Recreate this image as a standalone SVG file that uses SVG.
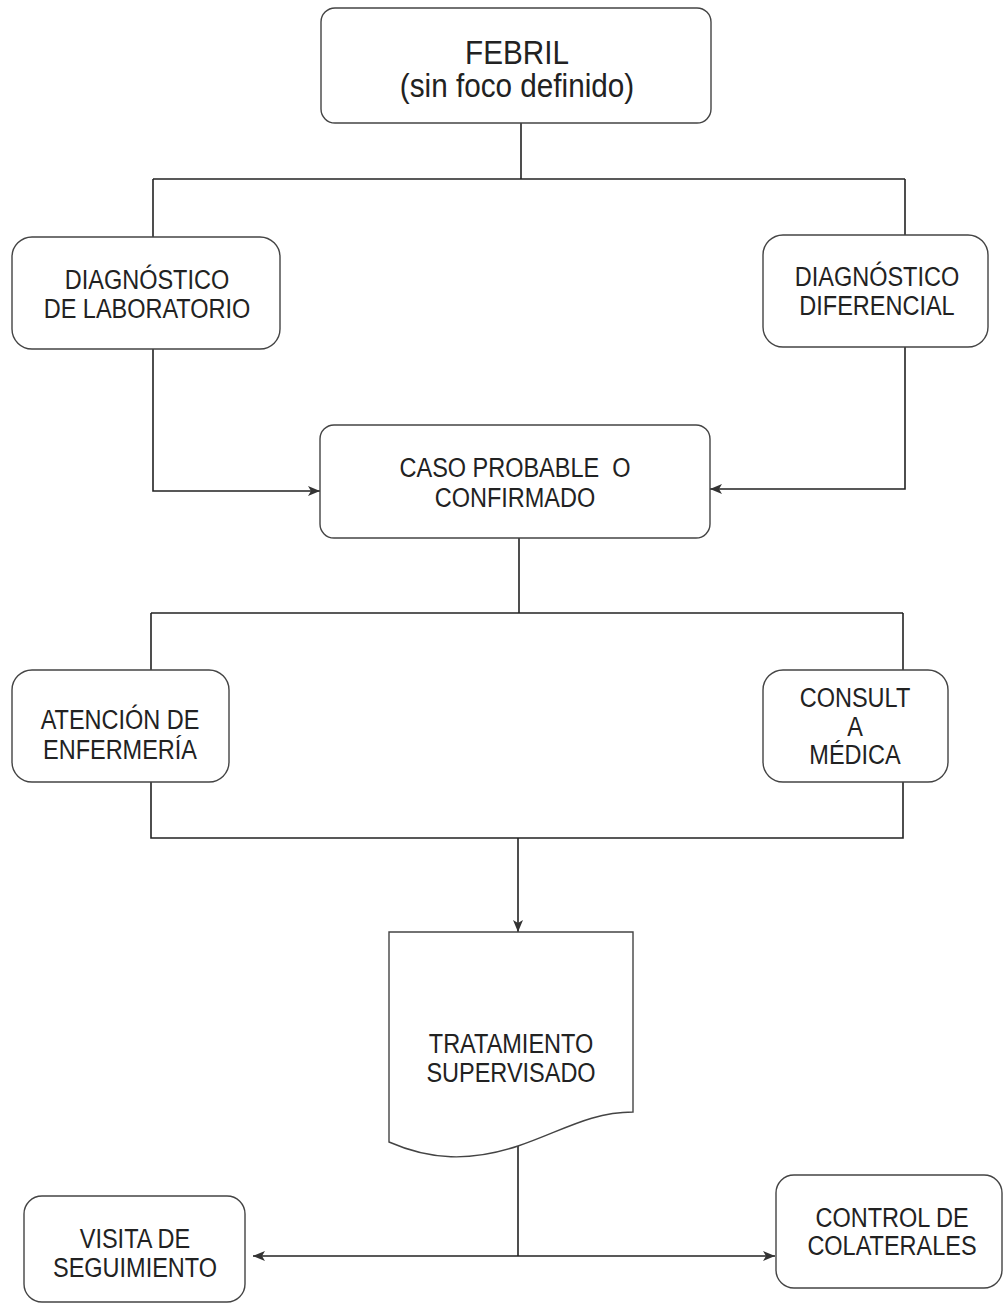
<svg xmlns="http://www.w3.org/2000/svg" width="1004" height="1306" viewBox="0 0 1004 1306">
<style>
.box{fill:#ffffff;stroke:#444;stroke-width:1.4}
.t{font-family:"Liberation Sans",Arial,sans-serif;font-size:27px;fill:#222;text-anchor:middle}
.big{font-size:33px}
.c{fill:none;stroke:#222;stroke-width:1.6}
</style>
<defs>
<marker id="ah" markerWidth="12" markerHeight="10" refX="12" refY="5" orient="auto" markerUnits="userSpaceOnUse">
<path d="M0,0 L12,5 L0,10 L3,5 Z" fill="#333"/>
</marker>
</defs>
<rect width="1004" height="1306" fill="#ffffff"/>
<g id="connectors">
<path class="c" d="M521,123 V179"/>
<path class="c" d="M153,179 H905"/>
<path class="c" d="M153,179 V237"/>
<path class="c" d="M905,179 V235"/>
<path class="c" d="M153,349 V491 H320" marker-end="url(#ah)"/>
<path class="c" d="M905,347 V489 H710" marker-end="url(#ah)"/>
<path class="c" d="M519,538 V613"/>
<path class="c" d="M151,613 H903"/>
<path class="c" d="M151,613 V670"/>
<path class="c" d="M903,613 V670"/>
<path class="c" d="M151,782 V838 H903 V782"/>
<path class="c" d="M518,838 V932" marker-end="url(#ah)"/>
<path class="c" d="M518,1146 V1256"/>
<path class="c" d="M518,1256 H253" marker-end="url(#ah)"/>
<path class="c" d="M518,1256 H775" marker-end="url(#ah)"/>
</g>
<g id="n-febril">
<rect class="box" x="321" y="8" width="390" height="115" rx="14"/>
<text class="t big" transform="matrix(0.9 0 0 1 517 0)" x="0" y="64">FEBRIL</text>
<text class="t big" transform="matrix(0.9 0 0 1 517 0)" x="0" y="97">(sin foco definido)</text>
</g>
<g id="n-lab">
<rect class="box" x="12" y="237" width="268" height="112" rx="20"/>
<text class="t" transform="matrix(0.87 0 0 1 147 0)" x="0" y="289">DIAGNÓSTICO</text>
<text class="t" transform="matrix(0.87 0 0 1 147 0)" x="0" y="318">DE LABORATORIO</text>
</g>
<g id="n-dif">
<rect class="box" x="763" y="235" width="225" height="112" rx="20"/>
<text class="t" transform="matrix(0.87 0 0 1 877 0)" x="0" y="286">DIAGNÓSTICO</text>
<text class="t" transform="matrix(0.87 0 0 1 877 0)" x="0" y="315">DIFERENCIAL</text>
</g>
<g id="n-caso">
<rect class="box" x="320" y="425" width="390" height="113" rx="14"/>
<text class="t" transform="matrix(0.87 0 0 1 515 0)" x="0" y="477" xml:space="preserve">CASO PROBABLE  O</text>
<text class="t" transform="matrix(0.87 0 0 1 515 0)" x="0" y="507">CONFIRMADO</text>
</g>
<g id="n-atencion">
<rect class="box" x="12" y="670" width="217" height="112" rx="20"/>
<text class="t" transform="matrix(0.87 0 0 1 120 0)" x="0" y="729">ATENCIÓN DE</text>
<text class="t" transform="matrix(0.87 0 0 1 120 0)" x="0" y="759">ENFERMERÍA</text>
</g>
<g id="n-consulta">
<rect class="box" x="763" y="670" width="185" height="112" rx="20"/>
<text class="t" transform="matrix(0.87 0 0 1 855 0)" x="0" y="707">CONSULT</text>
<text class="t" transform="matrix(0.87 0 0 1 855 0)" x="0" y="736">A</text>
<text class="t" transform="matrix(0.87 0 0 1 855 0)" x="0" y="764">MÉDICA</text>
</g>
<g id="n-tratamiento">
<path class="box" d="M389,932 H633 V1112 C590,1112 560,1132 518,1146 C470,1162 430,1160 389,1142 Z"/>
<text class="t" transform="matrix(0.87 0 0 1 511 0)" x="0" y="1053">TRATAMIENTO</text>
<text class="t" transform="matrix(0.87 0 0 1 511 0)" x="0" y="1082">SUPERVISADO</text>
</g>
<g id="n-visita">
<rect class="box" x="24" y="1196" width="221" height="106" rx="18"/>
<text class="t" transform="matrix(0.87 0 0 1 135 0)" x="0" y="1248">VISITA DE</text>
<text class="t" transform="matrix(0.87 0 0 1 135 0)" x="0" y="1277">SEGUIMIENTO</text>
</g>
<g id="n-control">
<rect class="box" x="776" y="1175" width="226" height="113" rx="18"/>
<text class="t" transform="matrix(0.87 0 0 1 892 0)" x="0" y="1227">CONTROL DE</text>
<text class="t" transform="matrix(0.87 0 0 1 892 0)" x="0" y="1255">COLATERALES</text>
</g>
</svg>
